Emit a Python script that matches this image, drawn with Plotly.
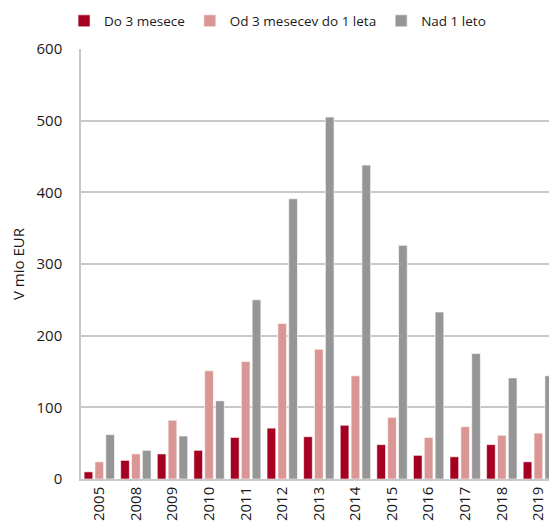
import plotly.graph_objects as go

years = ["2005", "2008", "2009", "2010", "2011", "2012", "2013",
         "2014", "2015", "2016", "2017", "2018", "2019"]
do_3_mesece = [10, 26, 35, 40, 58, 71, 59, 75, 48, 33, 31, 48, 24]
od_3_do_1_leta = [24, 35, 82, 151, 164, 217, 181, 144, 86, 58, 73, 61, 64]
nad_1_leto = [62, 40, 60, 109, 250, 391, 505, 438, 326, 233, 175, 141, 144]

font = "Open Sans, Noto Sans, sans-serif"

fig = go.Figure()
fig.add_trace(go.Bar(x=years, y=do_3_mesece, name="Do 3 mesece",
                     marker=dict(color="#a50021", line=dict(color="#ffffff", width=0.6))))
fig.add_trace(go.Bar(x=years, y=od_3_do_1_leta, name="Od 3 mesecev do 1 leta",
                     marker=dict(color="#da9694", line=dict(color="#ffffff", width=0.6))))
fig.add_trace(go.Bar(x=years, y=nad_1_leto, name="Nad 1 leto",
                     marker=dict(color="#969696", line=dict(color="#ffffff", width=0.6))))

# last group is cut by the right edge, as in the original
fig.update_layout(
    width=549, height=521,
    margin=dict(l=81, r=0, t=49, b=42),
    paper_bgcolor="white", plot_bgcolor="white",
    font=dict(family=font, size=15, color="#1a1a1a"),
    barmode="group", bargap=0.11, bargroupgap=0.2,
    legend=dict(orientation="h", x=0.42, xanchor="center", y=1.065, yanchor="middle",
                font=dict(size=13.5), itemwidth=30, tracegroupgap=0,
                traceorder="normal"),
    xaxis=dict(type="category", range=[-0.5, 12.29], tickangle=-90,
               showline=True, linecolor="#c8c8c8", linewidth=1.5,
               ticks="", tickfont=dict(size=15), automargin=False),
    yaxis=dict(range=[0, 600], dtick=100, showgrid=True, gridcolor="#c8c8c8",
               gridwidth=1.5, showline=True, linecolor="#c8c8c8", linewidth=1.5,
               zeroline=False, ticks="", ticklabelstandoff=14, automargin=False,
               tickfont=dict(size=15),
               title=dict(text="V mio EUR", font=dict(size=15), standoff=8)),
)

# drop the default page margin so the figure fills the window exactly
fig.write_html("out.html", config={"displayModeBar": False},
               post_script="document.body.style.margin = '0';")
